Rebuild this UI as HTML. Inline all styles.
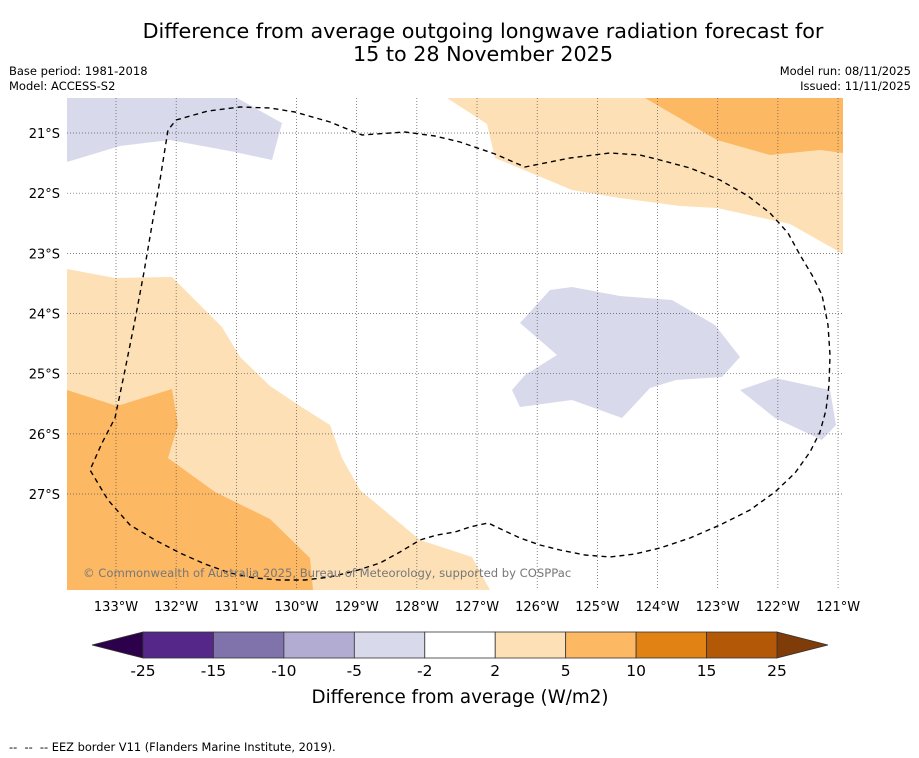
<!DOCTYPE html>
<html><head><meta charset="utf-8"><style>
body{margin:0;background:#fff;width:919px;height:758px;overflow:hidden;font-family:"DejaVu Sans","Liberation Sans",sans-serif}
svg{position:absolute;left:0;top:0}
</style></head><body>
<svg width="919" height="758" xmlns="http://www.w3.org/2000/svg" font-family="DejaVu Sans, Liberation Sans, sans-serif">
<text x="483" y="38" font-size="20.7" text-anchor="middle">Difference from average outgoing longwave radiation forecast for</text>
<text x="483" y="61" font-size="20.7" text-anchor="middle">15 to 28 November 2025</text>
<text x="9" y="75" font-size="11.5">Base period: 1981-2018</text>
<text x="9" y="90" font-size="11.5">Model: ACCESS-S2</text>
<text x="911" y="75" font-size="11.5" text-anchor="end">Model run: 08/11/2025</text>
<text x="911" y="90" font-size="11.5" text-anchor="end">Issued: 11/11/2025</text>
<defs><clipPath id="mc"><rect x="67" y="98" width="776" height="492"/></clipPath></defs>
<g id="map" clip-path="url(#mc)">
<polygon fill="#d8daeb" points="67,98 237,98 282,123 272,160 235,152 170,140 120,146 67,162"/>
<polygon fill="#fee0b6" points="447,98 487,124 495,158 572,190 620,198 680,206 717,208 790,224 843,254 843,98"/>
<polygon fill="#fdb863" points="645,98 717,140 770,155 820,150 843,153 843,98"/>
<polygon fill="#fee0b6" points="67,269 115,278 172,277 222,327 240,357 270,386 300,406 330,425 342,458 360,490 420,540 472,557 490,590 67,590"/>
<polygon fill="#fdb863" points="67,390 117,406 172,389 178,425 168,458 215,492 270,519 310,558 313,590 67,590"/>
<polygon fill="#d8daeb" points="520,323 550,290 572,287 620,296 672,300 715,325 740,357 722,377 676,380 650,388 622,418 572,400 520,407 512,390 525,375 557,355"/>
<polygon fill="#d8daeb" points="740,390 775,378 830,390 836,425 822,440 775,418"/>
<g id="grid"></g>
<polyline fill="none" stroke="#000" stroke-width="1.4" stroke-dasharray="5,4" stroke-linejoin="round" points="176,120 208,111 240,107 270,108 295,112 330,122 362,135 405,132 435,136 460,142 495,154 525,167 570,158 610,153 640,155 660,160 690,168 720,180 748,196 770,213 788,233 800,255 812,275 822,295 828,325 830,355 829,385 826,410 820,432 810,452 795,473 775,492 750,510 720,525 690,538 660,548 635,554 610,557 585,555 560,550 540,545 520,538 505,531 488,523 470,527 455,532 437,535 420,540 400,552 380,563 355,571 330,577 305,580 280,580 255,578 230,573 205,564 180,553 155,540 130,525 108,500 90,470 102,443 115,418 125,370 135,320 144,272 152,225 160,180 168,130 176,120"/>
<text x="83" y="577" font-size="11.6" fill="#777">© Commonwealth of Australia 2025, Bureau of Meteorology, supported by COSPPac</text>
</g>
<g id="axes"></g>
<g id="cbar"></g>
<text x="460" y="703" font-size="18.3" text-anchor="middle">Difference from average (W/m2)</text>
<text x="9" y="751" font-size="11.4" xml:space="preserve">--  --  -- EEZ border V11 (Flanders Marine Institute, 2019).</text>
</svg>
<script>
const lonTicks=[-133,-132,-131,-130,-129,-128,-127,-126,-125,-124,-123,-122,-121];
const latTicks=[-21,-22,-23,-24,-25,-26,-27];
const cbBounds=[-25,-15,-10,-5,-2,2,5,10,15,25];
const cbColors=["#542788","#8073ac","#b2abd2","#d8daeb","#ffffff","#fee0b6","#fdb863","#e08214","#b35806"];
const NS="http://www.w3.org/2000/svg";
const xLon=l=>116+(l+133)*60.17;
const yLat=l=>133+(-21-l)*60.17;
function mk(t,a,p){const e=document.createElementNS(NS,t);for(const k in a)e.setAttribute(k,a[k]);p.appendChild(e);return e;}
const grid=document.getElementById('grid'),axes=document.getElementById('axes'),cb=document.getElementById('cbar');
lonTicks.forEach(l=>{const x=xLon(l);
 const g=mk('line',{x1:x,x2:x,y1:98,y2:590,stroke:'#555','stroke-width':0.7,'stroke-dasharray':'1,2'},grid);
 
 
 const t=mk('text',{x:x,y:611,'font-size':13,'text-anchor':'middle'},axes);t.textContent=Math.abs(l)+'°W';
 
 });
latTicks.forEach(l=>{const y=yLat(l);
 const g=mk('line',{x1:67,x2:843,y1:y,y2:y,stroke:'#555','stroke-width':0.7,'stroke-dasharray':'1,2'},grid);
 
 
 const t=mk('text',{x:60,y:y+5,'font-size':13,'text-anchor':'end'},axes);t.textContent=Math.abs(l)+'°S';
 
 });
const x0=143,x1=777,yT=632,yB=658,n=cbBounds.length-1;
const cx=i=>x0+i*(x1-x0)/n;
const lt=mk('polygon',{points:`${x0},${yT} 92,645 ${x0},${yB}`,fill:'#2d004b',stroke:'#333','stroke-width':0.8},cb);


const rt=mk('polygon',{points:`${x1},${yT} 828,645 ${x1},${yB}`,fill:'#7f3b08',stroke:'#333','stroke-width':0.8},cb);


cbColors.forEach((c,i)=>{const r=mk('rect',{x:cx(i),y:yT,width:cx(i+1)-cx(i),height:yB-yT,fill:c,stroke:'#333','stroke-width':0.8},cb);
 
 });
cbBounds.forEach((v,i)=>{const t=mk('text',{x:cx(i),y:676,'font-size':15.5,'text-anchor':'middle'},cb);t.textContent=v;
 
 });
</script>
</body></html>
